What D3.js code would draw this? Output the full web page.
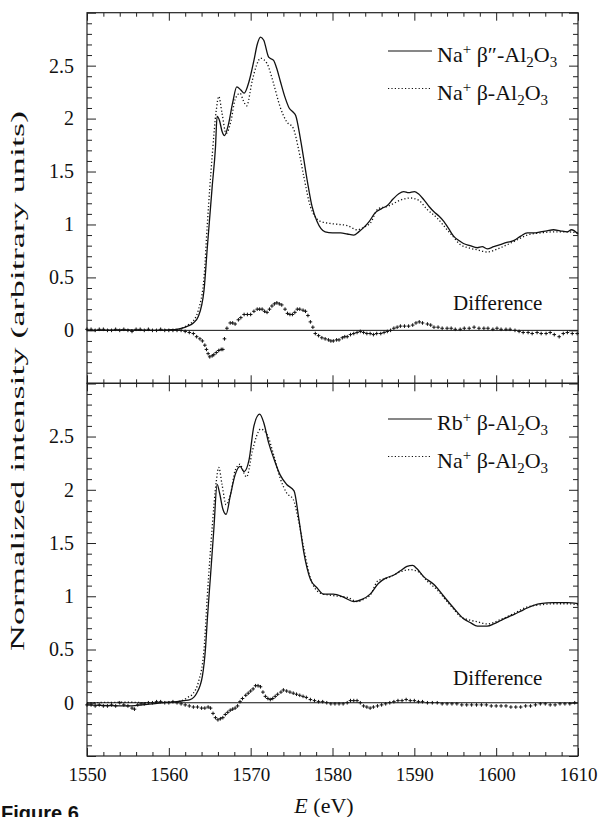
<!DOCTYPE html>
<html><head><meta charset="utf-8">
<script src="https://cdn.jsdelivr.net/npm/d3@7"></script>
<style>
body{margin:0;background:#fff}
svg{display:block;background:#fff}
text{font-family:"Liberation Serif","Times New Roman",serif;fill:#111}
</style>
</head><body>
<svg id="chart" width="599" height="817"></svg>
<script>
// ---------- DATA ----------
const xTickLabels = [1550,1560,1570,1580,1590,1600,1610];
const yTickLabels = [0,0.5,1,1.5,2,2.5];

// Na+ beta''-Al2O3 (top panel, solid)  [E (eV), intensity]
const naBetaPP = [[1550,0],[1555,0.005],[1558,0],[1560,0.005],[1561,0.01],[1561.6,0.02],[1562.3,0.04],[1563,0.07],[1563.6,0.13],[1564.3,0.38],[1564.7,0.78],[1565.3,1.36],[1565.7,1.73],[1565.9,2.02],[1566.2,1.98],[1566.5,1.88],[1566.8,1.84],[1567.3,1.95],[1567.8,2.15],[1568.3,2.30],[1568.8,2.27],[1569.2,2.24],[1569.8,2.35],[1570.4,2.55],[1570.8,2.70],[1571.2,2.77],[1571.6,2.74],[1572.2,2.58],[1572.8,2.55],[1573.2,2.47],[1573.6,2.36],[1574.2,2.20],[1574.7,2.10],[1575.2,2.06],[1575.5,2.03],[1576.1,1.80],[1576.9,1.42],[1577.5,1.17],[1578.1,1.03],[1579.1,0.93],[1580,0.92],[1581,0.92],[1581.8,0.91],[1582.6,0.90],[1583.2,0.93],[1583.8,0.97],[1584.5,1.03],[1585.2,1.11],[1586,1.15],[1586.7,1.18],[1587.4,1.24],[1588.1,1.29],[1588.7,1.31],[1589.3,1.30],[1590,1.31],[1590.5,1.29],[1591.2,1.23],[1591.8,1.17],[1592.4,1.12],[1593,1.08],[1593.6,1.03],[1594.2,0.96],[1594.8,0.89],[1595.4,0.85],[1596,0.82],[1596.8,0.80],[1597.7,0.78],[1598.3,0.79],[1598.9,0.77],[1599.7,0.79],[1600.5,0.81],[1601.3,0.83],[1602.2,0.85],[1603,0.89],[1603.8,0.92],[1604.6,0.92],[1605.4,0.93],[1606.2,0.94],[1607,0.95],[1607.8,0.94],[1608.7,0.93],[1609.2,0.95],[1610,0.91]];

// Na+ beta-Al2O3 (dotted, both panels)
const naBeta = [[1550,0],[1555,0.005],[1558,0],[1560,0.005],[1561,0.01],[1561.6,0.02],[1562.3,0.05],[1563,0.09],[1563.6,0.19],[1564.3,0.50],[1564.7,1.00],[1565.3,1.65],[1565.8,2.08],[1566.1,2.21],[1566.5,2.05],[1567.0,1.86],[1567.6,1.98],[1568.1,2.18],[1568.7,2.24],[1569.1,2.17],[1569.5,2.12],[1570.2,2.36],[1570.7,2.50],[1571.2,2.57],[1572.0,2.52],[1572.8,2.33],[1573.6,2.11],[1574.4,1.97],[1575.2,1.91],[1575.8,1.73],[1576.5,1.45],[1577.3,1.17],[1578.5,1.03],[1579.7,1.01],[1580.8,1.00],[1581.8,0.99],[1583.0,0.95],[1584.0,0.98],[1584.6,1.01],[1585.6,1.15],[1586.7,1.17],[1587.5,1.20],[1588.3,1.23],[1589.5,1.25],[1590.5,1.23],[1591.6,1.14],[1592.8,1.06],[1594.0,0.95],[1594.8,0.88],[1595.6,0.81],[1596.6,0.78],[1597.7,0.76],[1598.9,0.74],[1600.5,0.78],[1602.2,0.84],[1603.8,0.90],[1605.4,0.92],[1607.0,0.93],[1608.7,0.93],[1610,0.92]];

// Rb+ beta-Al2O3 (bottom panel, solid)
const rbBeta = [[1550,-0.02],[1555,-0.03],[1558,-0.01],[1560,0.005],[1561,0.01],[1561.8,0.02],[1562.6,0.03],[1563.4,0.09],[1564.1,0.25],[1564.5,0.53],[1564.7,0.78],[1565.1,1.20],[1565.5,1.63],[1565.9,2.05],[1566.2,1.97],[1566.6,1.82],[1567.0,1.77],[1567.5,1.94],[1568.1,2.14],[1568.7,2.22],[1569.2,2.17],[1569.8,2.28],[1570.4,2.60],[1571.1,2.71],[1571.6,2.63],[1572.2,2.44],[1572.8,2.30],[1573.6,2.14],[1574.4,2.05],[1575.3,1.99],[1575.9,1.72],[1576.5,1.41],[1577.3,1.16],[1578.1,1.08],[1578.9,1.02],[1580.1,1.02],[1581.4,0.99],[1582.6,0.95],[1583.6,0.97],[1584.6,1.02],[1585.6,1.12],[1586.5,1.17],[1587.5,1.20],[1588.3,1.24],[1589.1,1.28],[1589.8,1.29],[1590.3,1.26],[1591.2,1.18],[1592.4,1.11],[1593.6,1.00],[1594.8,0.89],[1596.0,0.79],[1596.9,0.75],[1597.7,0.72],[1598.9,0.72],[1599.7,0.74],[1600.5,0.77],[1601.3,0.80],[1602.2,0.83],[1603.0,0.86],[1603.8,0.89],[1605.4,0.93],[1607.0,0.94],[1608.7,0.94],[1610,0.93]];

// Differences (plus markers)
const diffTop = [[1550,0.01],[1550.5,0.01],[1551,0],[1551.5,0.01],[1552,0.01],[1552.5,0],[1553,0],[1553.5,0.01],[1554,0],[1554.5,0.01],[1555,0],[1555.5,-0.01],[1556,0.01],[1556.5,0.01],[1557,0],[1557.5,0.01],[1558,0],[1558.5,0],[1559,0.01],[1559.5,0],[1560,0],[1560.5,0],[1561,0],[1561.5,0],[1562,-0.01],[1562.5,-0.02],[1563,-0.03],[1563.4,-0.06],[1563.8,-0.08],[1564.1,-0.10],[1564.4,-0.14],[1564.6,-0.18],[1564.8,-0.22],[1565.0,-0.25],[1565.3,-0.24],[1565.5,-0.23],[1565.8,-0.21],[1566.1,-0.19],[1566.4,-0.18],[1566.6,-0.18],[1566.8,-0.08],[1567.1,0.02],[1567.5,0.07],[1567.8,0.07],[1568.1,0.06],[1568.5,0.10],[1568.8,0.12],[1569.2,0.15],[1569.6,0.15],[1570.0,0.15],[1570.4,0.18],[1570.8,0.20],[1571.1,0.20],[1571.4,0.20],[1571.7,0.18],[1572.0,0.17],[1572.3,0.20],[1572.6,0.23],[1572.9,0.25],[1573.2,0.26],[1573.5,0.25],[1573.8,0.24],[1574.2,0.20],[1574.5,0.16],[1574.8,0.15],[1575.1,0.15],[1575.4,0.17],[1575.7,0.20],[1576.0,0.20],[1576.4,0.19],[1576.7,0.18],[1577.0,0.14],[1577.3,0.08],[1577.6,0.03],[1577.9,-0.03],[1578.3,-0.05],[1578.7,-0.07],[1579.1,-0.08],[1579.5,-0.09],[1579.8,-0.10],[1580.1,-0.10],[1580.5,-0.09],[1580.8,-0.09],[1581.2,-0.07],[1581.5,-0.06],[1581.8,-0.06],[1582.2,-0.04],[1582.6,-0.03],[1583.0,-0.02],[1583.4,-0.01],[1583.8,-0.02],[1584.2,-0.03],[1584.6,-0.03],[1585.0,-0.04],[1585.4,-0.03],[1585.9,-0.03],[1586.3,-0.02],[1586.7,-0.01],[1587.1,0],[1587.5,0.02],[1587.9,0.03],[1588.3,0.04],[1588.8,0.04],[1589.3,0.04],[1589.8,0.05],[1590.2,0.07],[1590.6,0.08],[1591.0,0.07],[1591.6,0.06],[1592.0,0.05],[1592.4,0.03],[1592.9,0.03],[1593.4,0.02],[1594.0,0.02],[1594.5,0.02],[1595.0,0.01],[1595.6,0.01],[1596.1,0.02],[1596.7,0.02],[1597.3,0.03],[1597.9,0.02],[1598.5,0.02],[1599.0,0.02],[1599.6,0.01],[1600.1,0.02],[1600.6,0.01],[1601.2,0.01],[1601.7,0.01],[1602.3,0],[1602.8,-0.01],[1603.3,-0.02],[1603.9,-0.02],[1604.4,-0.03],[1605.0,-0.02],[1605.5,-0.03],[1606.1,-0.03],[1606.6,-0.02],[1607.1,-0.04],[1607.7,-0.06],[1608.2,-0.03],[1608.7,-0.02],[1609.3,-0.03],[1609.9,-0.03]];

const diffBottom = [[1550,-0.02],[1550.5,-0.02],[1551,-0.03],[1551.5,-0.02],[1552,-0.03],[1552.5,-0.03],[1553,-0.02],[1553.5,-0.03],[1554,0],[1554.5,-0.02],[1555,-0.03],[1555.5,-0.05],[1555.8,-0.06],[1556.2,-0.02],[1556.6,-0.01],[1557,-0.01],[1557.5,0],[1558,0],[1558.5,0.01],[1559,0.01],[1559.5,0],[1560,0],[1560.5,0.01],[1561,0],[1561.5,-0.01],[1562,-0.02],[1562.5,-0.03],[1563,-0.04],[1563.5,-0.04],[1564,-0.05],[1564.4,-0.05],[1564.8,-0.04],[1565.1,-0.05],[1565.4,-0.10],[1565.7,-0.14],[1566.0,-0.16],[1566.3,-0.15],[1566.6,-0.14],[1566.9,-0.11],[1567.2,-0.09],[1567.5,-0.07],[1567.8,-0.06],[1568.1,-0.05],[1568.4,-0.03],[1568.7,0.01],[1569.0,0.04],[1569.4,0.07],[1569.7,0.09],[1570.0,0.11],[1570.3,0.13],[1570.6,0.16],[1570.9,0.16],[1571.2,0.15],[1571.5,0.10],[1571.8,0.06],[1572.1,0.04],[1572.4,0.03],[1572.7,0.04],[1573.0,0.06],[1573.3,0.08],[1573.7,0.10],[1574.0,0.12],[1574.4,0.11],[1574.8,0.10],[1575.2,0.09],[1575.6,0.08],[1576.0,0.07],[1576.4,0.06],[1576.8,0.05],[1577.3,0.03],[1577.8,0.02],[1578.3,0.01],[1578.8,0.01],[1579.3,0],[1579.8,-0.01],[1580.3,-0.01],[1580.8,-0.01],[1581.3,-0.01],[1581.8,0],[1582.2,0.02],[1582.6,0.02],[1583.0,0.02],[1583.4,0],[1583.8,-0.03],[1584.2,-0.04],[1584.6,-0.05],[1585.0,-0.04],[1585.5,-0.03],[1586.0,-0.02],[1586.5,-0.01],[1587.0,0],[1587.5,0.01],[1588.0,0.02],[1588.5,0.02],[1589.0,0.03],[1589.5,0.02],[1590.0,0.02],[1590.5,0.01],[1591.0,0.01],[1591.6,0],[1592.2,0],[1592.8,0],[1593.4,-0.01],[1594.0,-0.01],[1594.6,-0.01],[1595.2,-0.01],[1595.8,-0.02],[1596.4,-0.02],[1597.0,-0.02],[1597.6,-0.02],[1598.2,-0.02],[1598.8,-0.02],[1599.4,-0.03],[1600.0,-0.03],[1600.6,-0.03],[1601.2,-0.03],[1601.8,-0.04],[1602.4,-0.04],[1603.0,-0.04],[1603.6,-0.03],[1604.2,-0.03],[1604.8,-0.02],[1605.4,-0.01],[1606.0,-0.01],[1606.6,-0.02],[1607.2,-0.02],[1607.8,-0.01],[1608.4,-0.01],[1609.0,-0.01],[1609.6,0]];

const legendTop = [
  {style:"solid",  parts:[["Na"],["+","sup"],[" β″-Al"],["2","sub"],["O"],["3","sub"]]},
  {style:"dotted", parts:[["Na"],["+","sup"],[" β-Al"],["2","sub"],["O"],["3","sub"]]}
];
const legendBottom = [
  {style:"solid",  parts:[["Rb"],["+","sup"],[" β-Al"],["2","sub"],["O"],["3","sub"]]},
  {style:"dotted", parts:[["Na"],["+","sup"],[" β-Al"],["2","sub"],["O"],["3","sub"]]}
];
const diffLabel = "Difference";
const yTitle = "Normalized intensity (arbitrary units)";

// ---------- LAYOUT ----------
const svg = d3.select("#chart");
const X0 = 87, X1 = 578;
const x = d3.scaleLinear().domain([1550,1610]).range([X0,X1]);
const panels = [
  {top:12.7, bottom:383.3, solid:naBetaPP, dotted:naBeta, diff:diffTop, legend:legendTop, legY:51, diffY:310},
  {top:383.3, bottom:756, solid:rbBeta, dotted:naBeta, diff:diffBottom, legend:legendBottom, legY:419, diffY:685}
];
const xMajor = d3.range(1550,1611,10);
const xMinor = d3.range(1552,1610,2).filter(v=>v%10!==0);
const yMajor = d3.range(-0.5,3.01,0.5).map(v=>+v.toFixed(2));
const yMinor = d3.range(-0.4,3.0,0.1).map(v=>+v.toFixed(2)).filter(v=>Math.abs(v*2-Math.round(v*2))>1e-6);

function stripAxis(g){ g.select(".domain").remove(); g.selectAll("line").attr("stroke","#222").attr("stroke-width",1); }

panels.forEach((p,i)=>{
  const y = d3.scaleLinear().domain([-0.5,3.0]).range([p.bottom,p.top]);
  const g = svg.append("g");
  const isLast = i===panels.length-1;
  g.append("g").attr("transform",`translate(0,${p.bottom})`)
    .call(d3.axisBottom(x).tickValues(xMinor).tickSize(-4).tickFormat("")).call(stripAxis);
  const bx = g.append("g").attr("transform",`translate(0,${p.bottom})`)
    .call(d3.axisBottom(x).tickValues(xMajor).tickSize(-8).tickPadding(11.5).tickFormat(isLast?d3.format("d"):()=>"")).call(stripAxis);
  bx.selectAll("text").attr("font-size",19).attr("fill","#111");
  g.append("g").attr("transform",`translate(0,${p.top})`)
    .call(d3.axisTop(x).tickValues(xMinor).tickSize(-4).tickFormat("")).call(stripAxis);
  g.append("g").attr("transform",`translate(0,${p.top})`)
    .call(d3.axisTop(x).tickValues(xMajor).tickSize(-8).tickFormat("")).call(stripAxis);
  g.append("g").attr("transform",`translate(${X0},0)`)
    .call(d3.axisLeft(y).tickValues(yMinor).tickSize(-5).tickFormat("")).call(stripAxis);
  const ly = g.append("g").attr("transform",`translate(${X0},0)`)
    .call(d3.axisLeft(y).tickValues(yMajor).tickSize(-9).tickPadding(13)
      .tickFormat(v=>yTickLabels.includes(v)?d3.format("~g")(v):"")).call(stripAxis);
  ly.selectAll("text").attr("font-size",20).attr("fill","#111");
  g.append("g").attr("transform",`translate(${X1},0)`)
    .call(d3.axisRight(y).tickValues(yMinor).tickSize(-5).tickFormat("")).call(stripAxis);
  g.append("g").attr("transform",`translate(${X1},0)`)
    .call(d3.axisRight(y).tickValues(yMajor).tickSize(-9).tickFormat("")).call(stripAxis);

  g.append("rect").attr("x",X0).attr("y",p.top).attr("width",X1-X0).attr("height",p.bottom-p.top)
    .attr("fill","none").attr("stroke","#222").attr("stroke-width",1.2);

  g.append("line").attr("x1",X0).attr("x2",X1).attr("y1",y(0)).attr("y2",y(0))
    .attr("stroke","#111").attr("stroke-width",1);

  const line = d3.line().x(d=>x(d[0])).y(d=>y(d[1])).curve(d3.curveMonotoneX);
  g.append("path").datum(p.dotted).attr("d",line).attr("fill","none")
    .attr("stroke","#111").attr("stroke-width",1.3).attr("stroke-dasharray","1.2,2.2");
  g.append("path").datum(p.solid).attr("d",line).attr("fill","none")
    .attr("stroke","#111").attr("stroke-width",1.3);

  const s = 1.8;
  g.append("path").attr("fill","none").attr("stroke","#111").attr("stroke-width",1)
    .attr("d", p.diff.map(d=>{const px=x(d[0]), py=y(d[1]); return `M${px-s},${py}h${2*s}M${px},${py-s}v${2*s}`;}).join(""));

  g.append("text").attr("x",453).attr("y",p.diffY).attr("font-size",21).text(diffLabel);

  p.legend.forEach((L,k)=>{
    const ly0 = p.legY + k*37.5;
    g.append("line").attr("x1",388).attr("x2",432).attr("y1",ly0).attr("y2",ly0)
      .attr("stroke","#111").attr("stroke-width",1.2)
      .attr("stroke-dasharray", L.style==="dotted" ? "1.2,2.2" : null);
    const t = g.append("text").attr("x",437).attr("y",ly0+11).attr("font-size",22);
    let off = 0;
    L.parts.forEach(([str,kind])=>{
      let target = kind==="sup" ? -8 : kind==="sub" ? 5 : 0;
      t.append("tspan").attr("dy",target-off).attr("font-size",kind?15:22).text(str);
      off = target;
    });
  });
});

const xt = svg.append("text").attr("x",324).attr("y",813).attr("text-anchor","middle").attr("font-size",22);
xt.append("tspan").attr("font-style","italic").text("E");
xt.append("tspan").text(" (eV)");

svg.append("text").attr("transform","translate(24,381) rotate(-90)").attr("text-anchor","middle")
  .attr("font-size",19).attr("textLength",540).attr("lengthAdjust","spacingAndGlyphs").text(yTitle);

svg.append("text").attr("x",1).attr("y",820).attr("font-size",20).attr("font-weight","bold")
  .style("font-family","Liberation Sans, Arial, sans-serif").text("Figure 6");
</script>
</body></html>
